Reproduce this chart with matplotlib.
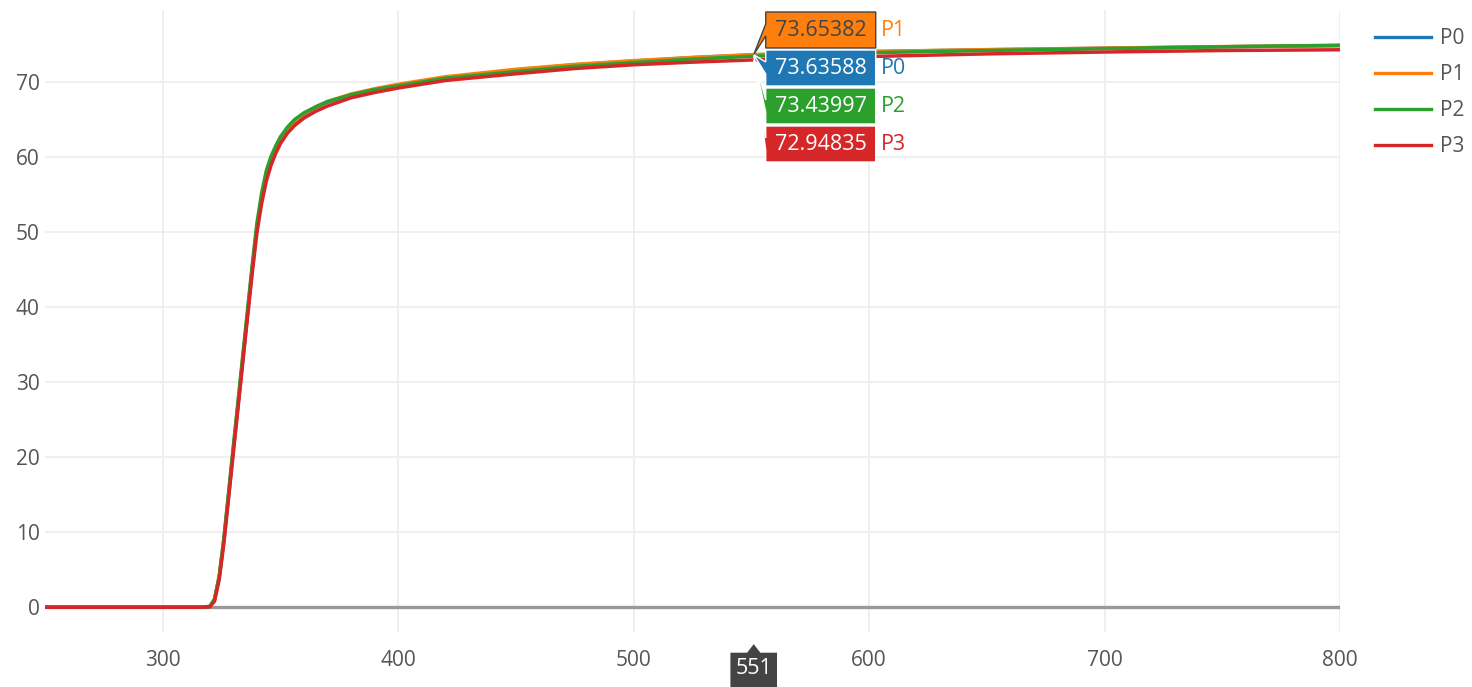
import matplotlib.pyplot as plt
from matplotlib.patches import Polygon
from matplotlib.transforms import IdentityTransform

plt.rcParams['font.family'] = ['Open Sans', 'DejaVu Sans']

# Curves P0..P3 sampled along x
x = [250, 300, 315, 320, 322, 324, 326, 328, 330, 332, 334, 336, 338, 340, 342,
     344, 346, 348, 350, 353, 356, 360, 365, 370, 380, 390, 400, 420, 450, 475,
     500, 525, 551, 575, 600, 650, 700, 750, 800]
p0 = [0, 0, 0, 0.1, 1, 4, 9, 15, 21, 27, 33, 39, 45, 50.5, 54.5,
      57.5, 59.5, 61, 62.3, 63.7, 64.7, 65.7, 66.6, 67.3, 68.3, 69.0, 69.6, 70.6, 71.6, 72.3,
      72.8, 73.25, 73.63588, 73.85, 74.05, 74.3, 74.5, 74.7, 74.85]
p1 = [0, 0, 0, 0.1, 1, 4.1, 9.1, 15.1, 21.2, 27.2, 33.2, 39.2, 45.2, 50.7, 54.7,
      57.7, 59.7, 61.2, 62.4, 63.8, 64.8, 65.8, 66.7, 67.4, 68.4, 69.1, 69.7, 70.7, 71.7, 72.35,
      72.85, 73.28, 73.65382, 73.87, 74.07, 74.32, 74.52, 74.72, 74.87]
p2 = [0, 0, 0, 0.1, 1.1, 4.2, 9.3, 15.4, 21.5, 27.5, 33.6, 39.6, 45.6, 51.2, 55.2,
      58.2, 60.1, 61.5, 62.7, 64.0, 65.0, 65.9, 66.7, 67.4, 68.3, 69.0, 69.5, 70.5, 71.4, 72.1,
      72.6, 73.05, 73.43997, 73.7, 73.9, 74.2, 74.45, 74.7, 74.9]
p3 = [0, 0, 0, 0.05, 0.8, 3.7, 8.6, 14.6, 20.6, 26.6, 32.6, 38.6, 44.5, 49.9, 53.8,
      56.8, 58.9, 60.5, 61.8, 63.2, 64.2, 65.2, 66.1, 66.8, 67.9, 68.6, 69.2, 70.2, 71.1, 71.8,
      72.3, 72.65, 72.94835, 73.2, 73.4, 73.75, 74.0, 74.2, 74.3]

names = ['P0', 'P1', 'P2', 'P3']
series = [p0, p1, p2, p3]
colors = ['#1f77b4', '#ff7f0e', '#2ca02c', '#d62728']
hover_x = 551

W, H = 1472, 687
fig = plt.figure(figsize=(W / 100, H / 100), dpi=100)
ax = fig.add_axes([45 / W, 55 / H, (1340 - 45) / W, (677 - 55) / H])

ax.set_xlim(250, 800)
ax.set_ylim(-3.3, 79.6)
ax.set_xticks(range(300, 801, 100))
ax.set_yticks(range(0, 71, 10))
ax.grid(color='#eeeeee', lw=1.3)
ax.set_axisbelow(True)
for s in ax.spines.values():
    s.set_visible(False)
ax.tick_params(length=0, labelsize=15, labelcolor='#555555')
ax.tick_params(axis='x', pad=13)
ax.tick_params(axis='y', pad=4)
ax.axhline(0, color='#999999', lw=2.4, zorder=1.5)

for name, ys, c in zip(names, series, colors):
    ax.plot(x, ys, color=c, lw=2.5, label=name, solid_joinstyle='round')

leg = ax.legend(loc='upper left', bbox_to_anchor=(1375 / W, 1 - 28 / H),
                bbox_transform=fig.transFigure, frameon=False, fontsize=15,
                handlelength=2.7, handletextpad=0.4, labelspacing=0.72,
                borderpad=0, borderaxespad=0)
for t in leg.get_texts():
    t.set_color('#555555')
for ln in leg.get_lines():
    ln.set_linewidth(2.4)

# hover labels at x = 551, stacked from the top of the plot, highest value first
idx = x.index(hover_x)
order = sorted(range(4), key=lambda i: -series[i][idx])
box_h, box_w, gap = 36, 110, 2
top = ax.bbox.y1
ident = IdentityTransform()
for k, i in enumerate(order):
    val = series[i][idx]
    px, py = ax.transData.transform((hover_x, val))
    cy = top - 2 - box_h / 2 - k * (box_h + gap)
    bl = px + 12
    verts = [(px, py), (bl, cy + 6), (bl, cy + box_h / 2), (bl + box_w, cy + box_h / 2),
             (bl + box_w, cy - box_h / 2), (bl, cy - box_h / 2), (bl, cy - 6)]
    dark = names[i] == 'P1'
    fig.add_artist(Polygon(verts, closed=True, facecolor=colors[i],
                           edgecolor='#444444' if dark else 'white', lw=1,
                           transform=ident, zorder=10))
    fig.text(bl + box_w / 2, cy, f'{val:.5f}', transform=ident, ha='center',
             va='center', fontsize=15.5, color='#444444' if dark else 'white', zorder=11)
    fig.text(bl + box_w + 5, cy, names[i], transform=ident, ha='left',
             va='center', fontsize=15.5, color=colors[i], zorder=11)

# x hover label under the axis
px, _ = ax.transData.transform((hover_x, 0))
tip = ax.bbox.y0 - 11
btop = tip - 9
verts = [(px, tip), (px + 7, btop), (px + 24, btop), (px + 24, -10),
         (px - 24, -10), (px - 24, btop), (px - 7, btop)]
fig.add_artist(Polygon(verts, closed=True, facecolor='#444444', edgecolor='white',
                       lw=1, transform=ident, zorder=10))
fig.text(px, btop - 17, str(hover_x), transform=ident, ha='center', va='center',
         fontsize=15.5, color='white', zorder=11)

fig.savefig('out.png', dpi=100)
